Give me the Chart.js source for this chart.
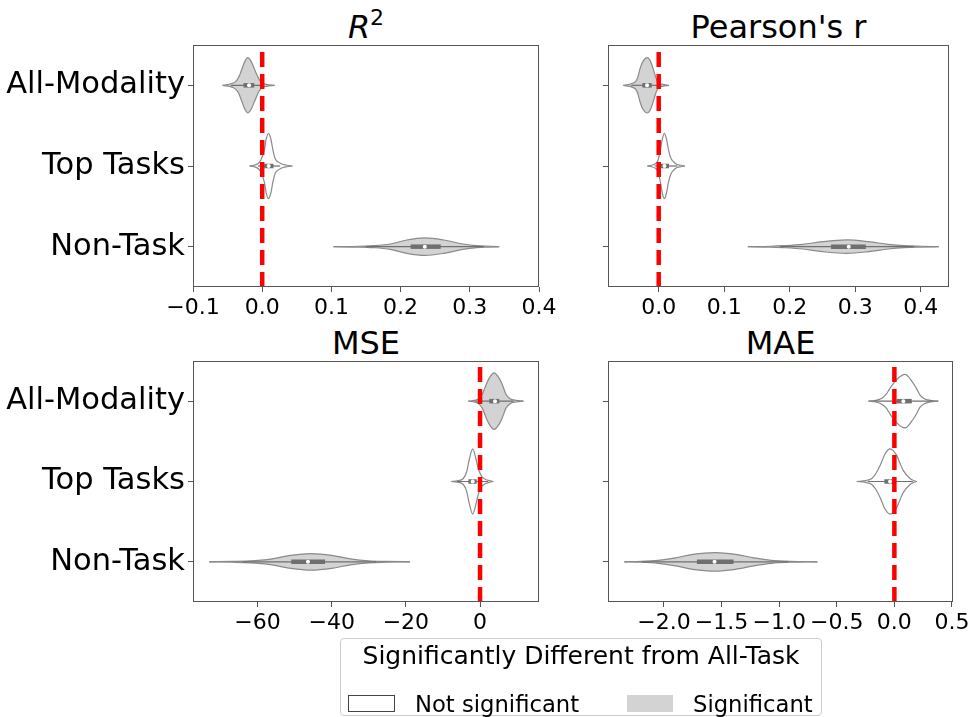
<!DOCTYPE html>
<html><head><meta charset="utf-8">
<script src="https://cdn.jsdelivr.net/npm/chart.js@4.4.1/dist/chart.umd.min.js"></script>
<style>
html,body{margin:0;padding:0;background:#fff;width:971px;height:717px;overflow:hidden;font-family:"DejaVu Sans",sans-serif;}
canvas{position:absolute;}
.title{position:absolute;text-align:center;font-size:32px;line-height:32px;color:#000;white-space:nowrap;}
.sup{position:relative;top:-13px;font-size:22px;}
#legend{position:absolute;left:340px;top:638px;width:482px;height:78px;box-sizing:border-box;border:1px solid #cccccc;border-radius:4px;background:#fff;}
#legend .lt{position:absolute;left:0;width:100%;top:0px;text-align:center;font-size:25px;line-height:34px;white-space:nowrap;}
#legend .sw{position:absolute;top:56px;height:17px;box-sizing:border-box;}
#legend .lab{position:absolute;top:48px;font-size:22.7px;line-height:34px;white-space:nowrap;}
</style></head><body>
<div class="title" style="left:193px;top:11px;width:346px"><i>R</i><span class="sup">2</span></div>
<div class="title" style="left:608px;top:11px;width:341px">Pearson's r</div>
<div class="title" style="left:193px;top:327px;width:346px">MSE</div>
<div class="title" style="left:608px;top:327px;width:345px">MAE</div>
<canvas id="c1" width="560" height="300" style="left:0;top:35px"></canvas>
<canvas id="c2" width="411" height="300" style="left:560px;top:35px"></canvas>
<canvas id="c3" width="560" height="290" style="left:0;top:350px"></canvas>
<canvas id="c4" width="411" height="290" style="left:560px;top:350px"></canvas>
<div id="legend">
  <div class="lt">Significantly Different from All-Task</div>
  <div class="sw" style="left:7px;width:47px;border:1px solid #444;background:#fff"></div>
  <div class="lab" style="left:74px">Not significant</div>
  <div class="sw" style="left:286px;width:46px;background:#d3d3d3"></div>
  <div class="lab" style="left:352px">Significant</div>
</div>
<script>
// ---------- data ----------
const categories = ['All-Modality', 'Top Tasks', 'Non-Task'];

// ticks
const r2Ticks = [-0.1, 0.0, 0.1, 0.2, 0.3, 0.4];
const pearsonTicks = [0.0, 0.1, 0.2, 0.3, 0.4];
const mseTicks = [-60, -40, -20, 0];
const maeTicks = [-2.0, -1.5, -1.0, -0.5, 0.0, 0.5];

// significance per category (All-Modality, Top Tasks, Non-Task)
const r2Significant = [true, false, true];
const pearsonSignificant = [true, false, true];
const mseSignificant = [true, false, true];
const maeSignificant = [false, false, true];

// violin outlines: value grid and half-width (density)
const r2AllModX = [-0.0573, -0.050, -0.043, -0.038, -0.034, -0.030, -0.025, -0.0207, -0.016, -0.011, -0.008, -0.0045, -0.0005, 0.006, 0.0178];
const r2AllModW = [0, 0.009, 0.025, 0.05, 0.099, 0.186, 0.297, 0.343, 0.297, 0.198, 0.136, 0.074, 0.031, 0.012, 0];
const r2TopX = [-0.0183, -0.012, -0.006, -0.002, 0.003, 0.0058, 0.0091, 0.0125, 0.0155, 0.019, 0.024, 0.030, 0.036, 0.0437];
const r2TopW = [0, 0.009, 0.031, 0.074, 0.198, 0.335, 0.405, 0.335, 0.198, 0.087, 0.045, 0.019, 0.009, 0];
const r2NonX = [0.1029, 0.14, 0.16, 0.185, 0.209, 0.235, 0.262, 0.29, 0.31, 0.33, 0.3425];
const r2NonW = [0, 0.005, 0.012, 0.033, 0.083, 0.108, 0.083, 0.033, 0.012, 0.005, 0];

const pearsonAllModX = [-0.054, -0.047, -0.040, -0.035, -0.032, -0.0285, -0.024, -0.0174, -0.0125, -0.0082, -0.0045, -0.0006, 0.006, 0.0157];
const pearsonAllModW = [0, 0.009, 0.025, 0.05, 0.099, 0.207, 0.297, 0.343, 0.297, 0.198, 0.099, 0.031, 0.012, 0];
const pearsonTopX = [-0.0174, -0.011, -0.0046, -0.001, 0.0025, 0.0055, 0.0086, 0.0118, 0.015, 0.0185, 0.023, 0.028, 0.034, 0.040];
const pearsonTopW = [0, 0.009, 0.031, 0.074, 0.198, 0.335, 0.405, 0.335, 0.198, 0.099, 0.05, 0.019, 0.009, 0];
const pearsonNonX = [0.136, 0.17, 0.19, 0.22, 0.25, 0.287, 0.32, 0.35, 0.375, 0.40, 0.4275];
const pearsonNonW = [0, 0.005, 0.012, 0.029, 0.062, 0.083, 0.062, 0.029, 0.012, 0.005, 0];

const mseAllModX = [-3.15, -1.5, -0.45, 0.6, 1.8, 2.8, 3.77, 4.8, 5.85, 7.0, 8.1, 9.8, 11.7];
const mseAllModW = [0, 0.009, 0.031, 0.087, 0.224, 0.311, 0.352, 0.311, 0.224, 0.087, 0.031, 0.01, 0];
const mseTopX = [-7.8, -6.2, -4.5, -3.6, -2.9, -1.98, -1.2, -0.4, 0.5, 1.5, 2.6, 3.6];
const mseTopW = [0, 0.009, 0.037, 0.125, 0.274, 0.405, 0.299, 0.149, 0.062, 0.025, 0.01, 0];
const mseNonX = [-73, -67, -62, -57, -51, -45.6, -40, -35, -30, -25, -18.9];
const mseNonW = [0, 0.005, 0.012, 0.031, 0.081, 0.103, 0.081, 0.037, 0.012, 0.005, 0];

const maeAllModX = [-0.225, -0.16, -0.109, -0.07, -0.037, 0.021, 0.093, 0.151, 0.19, 0.223, 0.26, 0.31, 0.382];
const maeAllModW = [0, 0.01, 0.037, 0.087, 0.162, 0.27, 0.333, 0.249, 0.162, 0.075, 0.031, 0.01, 0];
const maeTopX = [-0.326, -0.25, -0.196, -0.16, -0.124, -0.081, -0.037, 0.021, 0.05, 0.078, 0.136, 0.17, 0.194];
const maeTopW = [0, 0.01, 0.037, 0.099, 0.198, 0.343, 0.405, 0.322, 0.223, 0.136, 0.037, 0.01, 0];
const maeNonX = [-2.344, -2.2, -2.05, -1.9, -1.75, -1.555, -1.38, -1.22, -1.07, -0.9, -0.668];
const maeNonW = [0, 0.005, 0.019, 0.05, 0.093, 0.115, 0.093, 0.05, 0.019, 0.005, 0];

// inner box statistics per category
const r2Q1 = [-0.027, 0.003, 0.2145];
const r2Median = [-0.019, 0.0094, 0.235];
const r2Q3 = [-0.0115, 0.0163, 0.258];
const r2WhiskerLo = [-0.045, -0.006, 0.15];
const r2WhiskerHi = [0.003, 0.026, 0.32];

const pearsonQ1 = [-0.025, 0.002, 0.263];
const pearsonMedian = [-0.0178, 0.0088, 0.29];
const pearsonQ3 = [-0.0107, 0.0157, 0.316];
const pearsonWhiskerLo = [-0.042, -0.006, 0.185];
const pearsonWhiskerHi = [0.004, 0.028, 0.39];

const mseQ1 = [2.5, -3.15, -50.9];
const mseMedian = [4.04, -1.98, -46.4];
const mseQ3 = [5.2, -0.9, -41.8];
const mseWhiskerLo = [-1.2, -6.3, -64];
const mseWhiskerHi = [9, 2.2, -28];

const maeQ1 = [0.021, -0.087, -1.714];
const maeMedian = [0.078, -0.037, -1.561];
const maeQ3 = [0.151, 0.012, -1.396];
const maeWhiskerLo = [-0.17, -0.23, -2.19];
const maeWhiskerHi = [0.33, 0.16, -0.92];

const referenceValue = 0;

// ---------- drawing ----------
const FONT = 'DejaVu Sans';
Chart.defaults.font.family = FONT;

function fmt(v, dec) {
  const s = (Math.abs(v) < 1e-9 ? 0 : v).toFixed(dec);
  return s.replace('-', '\u2212');
}

const framePlugin = {
  id: 'frame',
  afterDraw(chart) {
    const { ctx, chartArea: a } = chart;
    ctx.save();
    ctx.strokeStyle = '#555';
    ctx.lineWidth = 1;
    ctx.strokeRect(Math.round(a.left) + 0.5, Math.round(a.top) + 0.5,
      Math.round(a.right - a.left) - 1, Math.round(a.bottom - a.top) - 1);
    ctx.restore();
  }
};

function buildPanel(id, p) {
  const ds = [];
  ds.push({
    data: [{ x: referenceValue, y: 2.5 }, { x: referenceValue, y: -0.5 }],
    borderColor: '#ff0000', borderWidth: 4.5, borderDash: [15, 7],
    pointRadius: 0, fill: false, order: 0
  });
  p.violins.forEach((v, i) => {
    ds.push({
      data: [{ x: p.median[i], y: i }], showLine: false,
      pointRadius: 2, pointBackgroundColor: '#ffffff', pointBorderWidth: 0, order: 1
    });
    ds.push({
      data: [{ x: p.q1[i], y: i }, { x: p.q3[i], y: i }],
      borderColor: '#6f6f6f', borderWidth: 4.5, borderCapStyle: 'butt',
      pointRadius: 0, fill: false, order: 2
    });
    ds.push({
      data: [{ x: p.wlo[i], y: i }, { x: p.whi[i], y: i }],
      borderColor: '#6f6f6f', borderWidth: 1.2,
      pointRadius: 0, fill: false, order: 3
    });
    const fillCol = p.sig[i] ? '#d3d3d3' : '#ffffff';
    ds.push({
      data: v[0].map((x, k) => ({ x: x, y: i - v[1][k] })),
      borderColor: '#8a8a8a', borderWidth: 1.2, pointRadius: 0,
      cubicInterpolationMode: 'monotone', fill: false, order: 4
    });
    ds.push({
      data: v[0].map((x, k) => ({ x: x, y: i + v[1][k] })),
      borderColor: '#8a8a8a', borderWidth: 1.2, pointRadius: 0,
      cubicInterpolationMode: 'monotone', fill: '-1', backgroundColor: fillCol, order: 4
    });
  });

  const tickGrid = { drawOnChartArea: false, drawTicks: true, tickLength: 5, color: '#555', lineWidth: 1 };
  new Chart(document.getElementById(id), {
    type: 'line',
    data: { datasets: ds },
    options: {
      responsive: false, animation: false, devicePixelRatio: 1,
      layout: { padding: { top: p.padTop, right: p.padRight, left: 0, bottom: 0 } },
      plugins: { legend: { display: false }, tooltip: { enabled: false }, title: { display: false } },
      elements: { line: { tension: 0 } },
      scales: {
        x: {
          type: 'linear', min: p.xmin, max: p.xmax,
          afterBuildTicks: s => { s.ticks = p.ticks.map(v => ({ value: v })); },
          afterFit: s => { s.height = p.xH; s.paddingLeft = 0; s.paddingRight = 0; },
          ticks: { autoSkip: false, maxRotation: 0, color: '#000', font: { size: 22 }, padding: 3,
                   callback: v => fmt(v, p.dec) },
          grid: tickGrid, border: { display: false }
        },
        y: {
          type: 'linear', min: -0.5, max: 2.5, reverse: true,
          afterBuildTicks: s => { s.ticks = [0, 1, 2].map(v => ({ value: v })); },
          afterFit: s => { s.width = p.yW; s.paddingTop = 0; s.paddingBottom = 0; },
          ticks: { color: '#000', font: { size: 30.5 }, padding: 3,
                   callback: v => p.showY ? categories[v] : '' },
          grid: tickGrid, border: { display: false }
        }
      }
    },
    plugins: [framePlugin]
  });
}

buildPanel('c1', {
  violins: [[r2AllModX, r2AllModW], [r2TopX, r2TopW], [r2NonX, r2NonW]],
  sig: r2Significant, q1: r2Q1, median: r2Median, q3: r2Q3, wlo: r2WhiskerLo, whi: r2WhiskerHi,
  ticks: r2Ticks, dec: 1, xmin: -0.1, xmax: 0.4,
  padTop: 10, padRight: 21, yW: 193, xH: 48, showY: true
});
buildPanel('c2', {
  violins: [[pearsonAllModX, pearsonAllModW], [pearsonTopX, pearsonTopW], [pearsonNonX, pearsonNonW]],
  sig: pearsonSignificant, q1: pearsonQ1, median: pearsonMedian, q3: pearsonQ3, wlo: pearsonWhiskerLo, whi: pearsonWhiskerHi,
  ticks: pearsonTicks, dec: 1, xmin: -0.0774, xmax: 0.443,
  padTop: 10, padRight: 22, yW: 48, xH: 48, showY: false
});
buildPanel('c3', {
  violins: [[mseAllModX, mseAllModW], [mseTopX, mseTopW], [mseNonX, mseNonW]],
  sig: mseSignificant, q1: mseQ1, median: mseMedian, q3: mseQ3, wlo: mseWhiskerLo, whi: mseWhiskerHi,
  ticks: mseTicks, dec: 0, xmin: -77.4, xmax: 15.9,
  padTop: 11, padRight: 21, yW: 193, xH: 38, showY: true
});
buildPanel('c4', {
  violins: [[maeAllModX, maeAllModW], [maeTopX, maeTopW], [maeNonX, maeNonW]],
  sig: maeSignificant, q1: maeQ1, median: maeMedian, q3: maeQ3, wlo: maeWhiskerLo, whi: maeWhiskerHi,
  ticks: maeTicks, dec: 1, xmin: -2.486, xmax: 0.509,
  padTop: 11, padRight: 18, yW: 48, xH: 38, showY: false
});
</script>
</body></html>
